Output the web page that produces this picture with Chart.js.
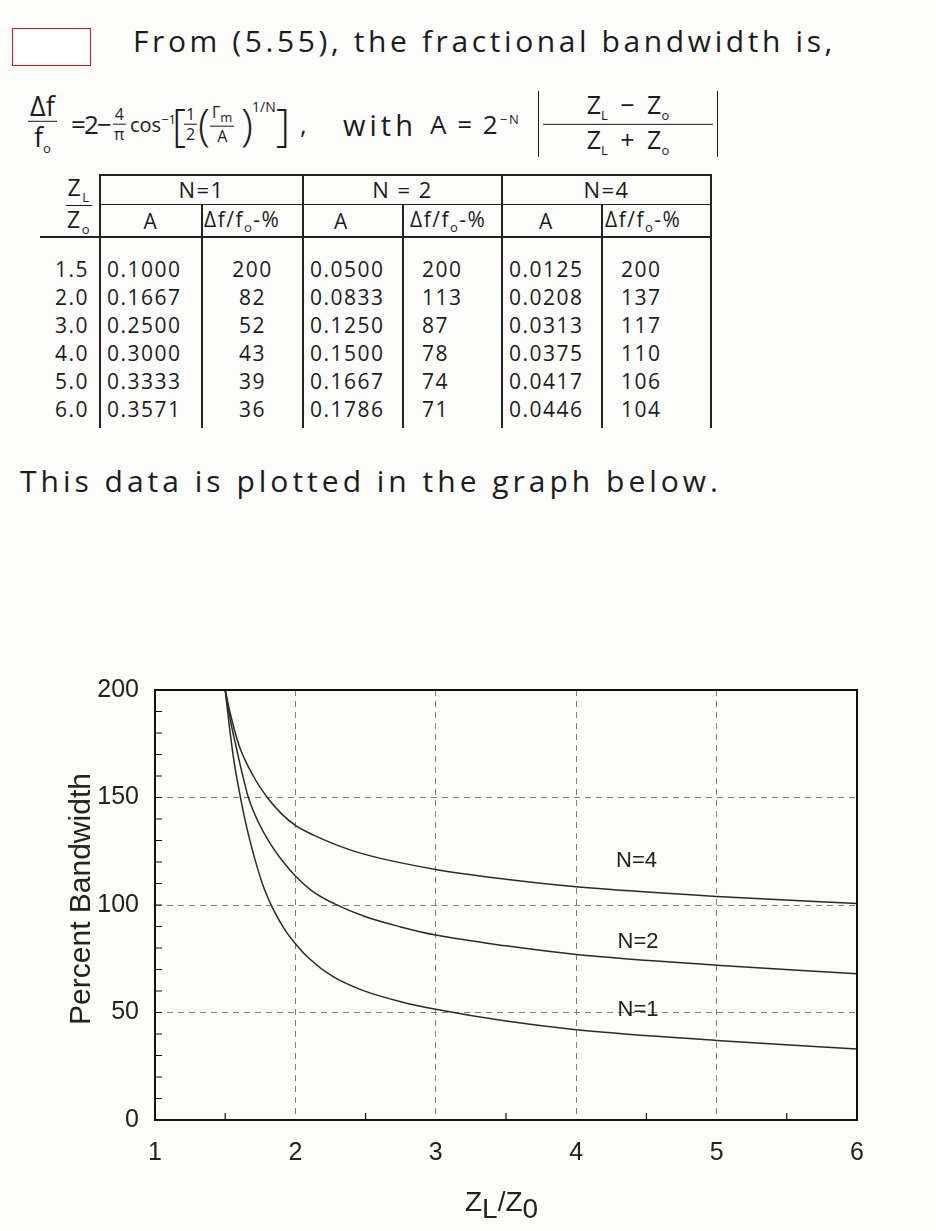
<!DOCTYPE html>
<html lang="en">
<head>
    <meta charset="UTF-8">
    <title>Fractional bandwidth vs ZL/Z0</title>
    <script src="https://cdn.jsdelivr.net/npm/chart.js@4.4.1/dist/chart.umd.min.js"></script>
    <style>
        body {
            margin: 0;
            width: 936px;
            height: 1231px;
            overflow: hidden;
            position: relative;
            background-color: #fcfcfa;
            font-family: "Open Sans", "DejaVu Sans", sans-serif;
            color: #1c1c1c;
        }
        .hand {
            position: absolute;
            white-space: nowrap;
            font-size: 30px;
            letter-spacing: 3.6px;
        }
        #redbox {
            position: absolute;
            left: 12px;
            top: 28px;
            width: 77px;
            height: 36px;
            border: 1px solid #e01010;
            background-color: #fff;
        }
        .frac {
            display: inline-flex;
            flex-direction: column;
            align-items: center;
            vertical-align: middle;
            line-height: 1.05;
        }
        .frac > span:first-child {
            border-bottom: 1.5px solid #1c1c1c;
            padding: 0 2px 1px 2px;
        }
        .frac > span:last-child {
            padding: 1px 2px 0 2px;
        }
        #formula {
            position: absolute;
            left: 0;
            top: 0;
            font-size: 26px;
        }
        #formula > span {
            position: absolute;
            top: 124px;
            transform: translateY(-50%);
            white-space: nowrap;
        }
        #formula sub, #formula sup { font-size: 13px; }
        .small { font-size: 16px; }
        .big { font-size: 44px; font-weight: 300; line-height: 1; }
        .abs {
            border-left: 1.5px solid #1c1c1c;
            border-right: 1.5px solid #1c1c1c;
            padding: 0 6px;
            font-size: 25px;
        }
        .abs .frac > span { width: 100%; text-align: center; }
        #tbl {
            position: absolute;
            left: 40px;
            top: 174px;
            border-collapse: collapse;
            font-size: 21px;
            letter-spacing: 1.5px;
            line-height: 1.15;
        }
        #tbl td {
            padding: 0;
            border-right: 2px solid #222;
            height: 28px;
            white-space: nowrap;
        }
        #tbl td sub { font-size: 13px; }
        #tbl .zz {
            border-bottom: 2px solid #222;
            text-align: right;
            padding-right: 6px;
            font-size: 23px;
            line-height: 1;
        }
        #tbl .g {
            border-top: 2px solid #222;
            border-bottom: 1.5px solid #222;
            text-align: center;
            height: 25px;
            font-size: 22px;
        }
        #tbl .h2 td {
            border-bottom: 2px solid #222;
            height: 28px;
        }
        #tbl td.c0 { text-align: right; padding-right: 10px; }
        #tbl td.ca { text-align: left; padding-left: 6px; }
        #tbl td.cc { text-align: center; }
        #tbl td.cl { text-align: left; padding-left: 18px; }
        #chartBox {
            position: absolute;
            left: 0;
            top: 640px;
            width: 936px;
            height: 591px;
        }
        #ytitle {
            position: absolute;
            left: -70px;
            top: 882px;
            width: 300px;
            text-align: center;
            transform: rotate(-90deg);
            font-family: "Liberation Sans", Arial, sans-serif;
            font-size: 30px;
            color: #222;
        }
        #xtitle {
            position: absolute;
            left: 465px;
            top: 1186px;
            font-family: "Liberation Sans", Arial, sans-serif;
            font-size: 28px;
            color: #222;
        }
        #xtitle sub { font-size: 28px; vertical-align: -7px; line-height: 0; }
    </style>
</head>
<body>
    <div id="redbox"></div>
    <div class="hand" style="left:133px; top:20px;">From (5.55), the fractional bandwidth is,</div>

    <div id="formula">
        <span class="frac" style="left:28px; font-size:27px;"><span>&Delta;f</span><span>f<sub>o</sub></span></span>
        <span style="left:71px;">=</span>
        <span style="left:84px;">2</span>
        <span style="left:97px;">&minus;</span>
        <span class="frac small" style="left:112px;"><span>4</span><span>&pi;</span></span>
        <span style="left:130px; font-size:20px;">cos<sup>&minus;1</sup></span>
        <span class="big" style="left:172px;">[</span>
        <span class="frac small" style="left:184px;"><span>1</span><span>2</span></span>
        <span class="big" style="left:198px;">(</span>
        <span class="frac small" style="left:210px;"><span>&Gamma;<sub>m</sub></span><span>A</span></span>
        <span class="big" style="left:241px;">)</span>
        <span style="left:252px; top:106px; font-size:14px;">1/N</span>
        <span class="big" style="left:276px;">]</span>
        <span style="left:300px;">,</span>
        <span style="left:343px; font-size:29px; letter-spacing:4px;">with</span>
        <span style="left:430px; letter-spacing:2px;">A = 2<sup>&minus;N</sup></span>
        <span class="abs" style="left:538px; width:166px;"><span class="frac" style="width:100%;"><span>Z<sub>L</sub>&ensp;&minus;&ensp;Z<sub>o</sub></span><span>Z<sub>L</sub>&ensp;+&ensp;Z<sub>o</sub></span></span></span>
    </div>

    <table id="tbl">
        <colgroup>
            <col style="width:60px"><col style="width:102px"><col style="width:101px">
            <col style="width:100px"><col style="width:99px"><col style="width:100px"><col style="width:109px">
        </colgroup>
        <tbody id="tbody">
            <tr>
                <td rowspan="2" class="zz"><span class="frac"><span>Z<sub>L</sub></span><span>Z<sub>o</sub></span></span></td>
                <td colspan="2" class="g">N=1</td>
                <td colspan="2" class="g">N = 2</td>
                <td colspan="2" class="g">N=4</td>
            </tr>
            <tr class="h2">
                <td class="cc">A</td><td class="ca" style="padding-left:1px;">&Delta;f/f<sub>o</sub>-%</td>
                <td class="ca" style="padding-left:30px;">A</td><td class="ca">&Delta;f/f<sub>o</sub>-%</td>
                <td class="ca" style="padding-left:36px;">A</td><td class="ca" style="padding-left:2px;">&Delta;f/f<sub>o</sub>-%</td>
            </tr>
        </tbody>
    </table>

    <div class="hand" style="left:20px; top:460px; letter-spacing:4px;">This data is plotted in the graph below.</div>

    <div id="chartBox"><canvas id="bwChart"></canvas></div>
    <div id="ytitle">Percent Bandwidth</div>
    <div id="xtitle">Z<sub>L</sub>/Z<sub>0</sub></div>

    <script>
        // table values (handwritten table)
        const tableRatio = ['1.5', '2.0', '3.0', '4.0', '5.0', '6.0'];
        const tableA1 = ['0.1000', '0.1667', '0.2500', '0.3000', '0.3333', '0.3571'];
        const tableBw1 = ['200', '82', '52', '43', '39', '36'];
        const tableA2 = ['0.0500', '0.0833', '0.1250', '0.1500', '0.1667', '0.1786'];
        const tableBw2 = ['200', '113', '87', '78', '74', '71'];
        const tableA4 = ['0.0125', '0.0208', '0.0313', '0.0375', '0.0417', '0.0446'];
        const tableBw4 = ['200', '137', '117', '110', '106', '104'];

        // curves
        const zN1 = [1.5, 1.53, 1.56, 1.6, 1.65, 1.7, 1.77, 1.85, 1.93, 2.0, 2.1, 2.26, 2.47, 2.75, 3.0, 3.5, 4.0, 5.0, 6.0];
        const bwN1 = [200, 183, 168, 153, 137, 124, 109, 97, 88, 82, 75, 67, 60.5, 55, 51.5, 46, 42, 37, 33];
        const zN2 = [1.5, 1.54, 1.58, 1.62, 1.665, 1.74, 1.83, 1.92, 2.0, 2.12, 2.28, 2.5, 2.75, 3.0, 3.5, 4.0, 5.0, 6.0];
        const bwN2 = [200, 185, 173, 161.5, 150, 138, 127.6, 119.5, 113.5, 106.5, 100.5, 94.5, 89.8, 86, 81, 77, 72, 68];
        const zN4 = [1.5, 1.54, 1.6, 1.7, 1.8, 1.9, 2.0, 2.13, 2.26, 2.47, 3.0, 3.5, 4.0, 5.0, 6.0];
        const bwN4 = [200, 188, 174, 160, 150, 142.5, 137, 132.5, 128.8, 124, 116.5, 112, 108.5, 104, 100.7];

        const curveNames = ['N=4', 'N=2', 'N=1'];
        const nameX = [4.43, 4.44, 4.44];
        const nameY = [120.6, 82.7, 51];

        // fill table rows
        const tbody = document.getElementById('tbody');
        const spacer = (h) => {
            const tr = document.createElement('tr');
            for (let i = 0; i < 7; i++) {
                const td = document.createElement('td');
                td.style.height = h + 'px';
                tr.appendChild(td);
            }
            tbody.appendChild(tr);
        };
        spacer(17);
        tableRatio.forEach((r, i) => {
            const tr = document.createElement('tr');
            const cells = [
                [r, 'c0'], [tableA1[i], 'ca'], [tableBw1[i], 'cc'],
                [tableA2[i], 'ca'], [tableBw2[i], 'cl'],
                [tableA4[i], 'ca'], [tableBw4[i], 'cl']
            ];
            cells.forEach(([txt, cls]) => {
                const td = document.createElement('td');
                td.className = cls;
                td.textContent = txt;
                tr.appendChild(td);
            });
            tbody.appendChild(tr);
        });
        spacer(5);

        const pts = (xs, ys) => xs.map((x, i) => ({ x: x, y: ys[i] }));

        const framePlugin = {
            id: 'frame',
            afterDatasetsDraw(chart) {
                const { ctx, chartArea: a, scales: { x, y } } = chart;
                ctx.save();
                ctx.strokeStyle = '#111';
                ctx.lineWidth = 2;
                ctx.beginPath();
                ctx.moveTo(a.left, a.top);
                ctx.lineTo(a.right, a.top);
                ctx.lineTo(a.right, a.bottom);
                ctx.stroke();

                // small inner ticks
                ctx.lineWidth = 1.2;
                ctx.beginPath();
                for (let v = 10; v < 200; v += 10) {
                    const py = y.getPixelForValue(v);
                    ctx.moveTo(a.left, py);
                    ctx.lineTo(a.left + 7, py);
                }
                for (let v = 1.5; v < 6; v += 1) {
                    const px = x.getPixelForValue(v);
                    ctx.moveTo(px, a.bottom);
                    ctx.lineTo(px, a.bottom - 7);
                }
                ctx.stroke();

                ctx.fillStyle = '#222';
                ctx.font = '22px "Liberation Sans", Arial, sans-serif';
                ctx.textAlign = 'center';
                ctx.textBaseline = 'middle';
                curveNames.forEach((n, i) => {
                    ctx.fillText(n, x.getPixelForValue(nameX[i]), y.getPixelForValue(nameY[i]));
                });
                ctx.restore();
            }
        };

        const lineStyle = {
            borderColor: '#2a2a2a',
            borderWidth: 1.5,
            pointRadius: 0,
            cubicInterpolationMode: 'monotone',
            fill: false
        };

        const tickFont = { family: '"Liberation Sans", Arial, sans-serif', size: 25 };

        new Chart(document.getElementById('bwChart'), {
            type: 'line',
            data: {
                datasets: [
                    { label: 'N=1', data: pts(zN1, bwN1), ...lineStyle },
                    { label: 'N=2', data: pts(zN2, bwN2), ...lineStyle },
                    { label: 'N=4', data: pts(zN4, bwN4), ...lineStyle }
                ]
            },
            options: {
                responsive: true,
                maintainAspectRatio: false,
                animation: false,
                layout: { padding: { left: 0, right: 79, top: 50, bottom: 0 } },
                plugins: {
                    legend: { display: false },
                    tooltip: { enabled: false }
                },
                scales: {
                    x: {
                        type: 'linear',
                        min: 1,
                        max: 6,
                        afterFit: (scale) => { scale.height = 111; },
                        ticks: { stepSize: 1, color: '#222', font: tickFont, padding: 18, maxRotation: 0 },
                        grid: { color: '#808080', lineWidth: 1, drawTicks: false },
                        border: { color: '#111', width: 2, dash: [6, 5] }
                    },
                    y: {
                        min: 0,
                        max: 200,
                        afterFit: (scale) => { scale.width = 155; },
                        ticks: { stepSize: 50, color: '#222', font: tickFont, padding: 16 },
                        grid: { color: '#808080', lineWidth: 1, drawTicks: false },
                        border: { color: '#111', width: 2, dash: [6, 5] }
                    }
                }
            },
            plugins: [framePlugin]
        });
    </script>
</body>
</html>
